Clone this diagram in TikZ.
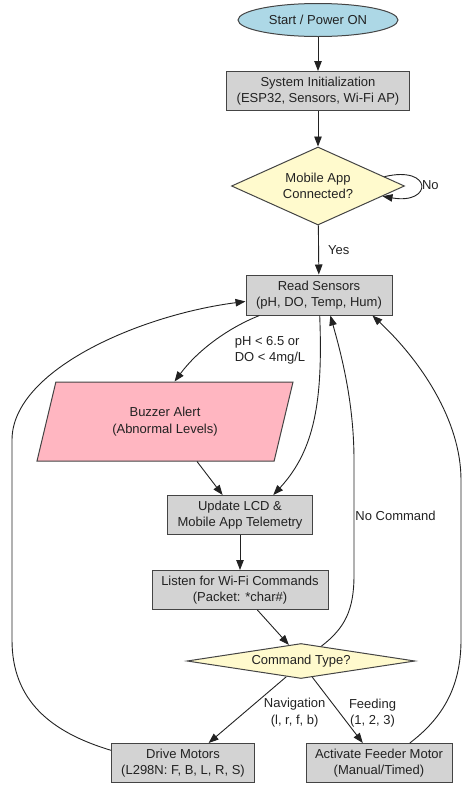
\documentclass[tikz,border=0pt]{standalone}
\usepackage{fontspec}
\setmainfont{Liberation Sans}
\usetikzlibrary{shapes.geometric, arrows.meta, calc}

\definecolor{boxgray}{HTML}{D3D3D3}
\definecolor{startblue}{HTML}{ADD8E6}
\definecolor{decyellow}{HTML}{FFFACD}
\definecolor{alertpink}{HTML}{FFB6C1}
\definecolor{edgeink}{HTML}{222222}
\definecolor{borderink}{HTML}{444444}

\begin{document}
\begin{tikzpicture}[x=1pt, y=1pt,
  every node/.style={font=\fontsize{13}{16.5}\selectfont, text=edgeink, align=center},
  procbox/.style={rectangle, draw=borderink, fill=boxgray, line width=1pt,
                  inner sep=0pt, minimum height=39pt},
  startnode/.style={ellipse, draw=borderink, fill=startblue, line width=1pt,
                    inner sep=0pt, minimum width=160pt, minimum height=33pt},
  decision/.style={diamond, draw=borderink, fill=decyellow, line width=1pt, inner sep=0pt},
  alertnode/.style={trapezium, trapezium left angle=56.6, trapezium right angle=123.4,
                    trapezium stretches body, draw=borderink, fill=alertpink,
                    line width=1pt, inner sep=0pt, minimum width=256pt, minimum height=79pt},
  flow/.style={draw=edgeink, line width=0.9pt, -{Triangle[length=10pt, width=7.5pt]}},
  lbl/.style={inner sep=0pt}
]
\useasboundingbox (0,0) rectangle (462,-785);

% nodes
\node[startnode] (start) at (318,-20) {Start / Power ON};
\node[procbox, minimum width=183pt] (init) at (318,-91)
  {System Initialization\\(ESP32, Sensors, Wi-Fi AP)};
\node[decision, aspect=2.2, minimum width=173pt, minimum height=78pt] (mobile) at (318,-186)
  {Mobile App\\Connected?};
\node[procbox, minimum width=146pt, minimum height=40pt] (read) at (319,-295)
  {Read Sensors\\(pH, DO, Temp, Hum)};
\node[alertnode] (buzzer) at (165,-421.5) {Buzzer Alert\\(Abnormal Levels)};
\node[procbox, minimum width=145pt] (update) at (240,-515)
  {Update LCD \&\\Mobile App Telemetry};
\node[procbox, minimum width=176pt] (listen) at (240,-590)
  {Listen for Wi-Fi Commands\\(Packet: *char\#)};
\node[decision, aspect=6.5, minimum width=228pt, minimum height=35pt] (cmd) at (301,-661)
  {Command Type?};
\node[procbox, minimum width=143pt] (drive) at (183,-763)
  {Drive Motors\\(L298N: F, B, L, R, S)};
\node[procbox, minimum width=146pt] (feeder) at (379,-763)
  {Activate Feeder Motor\\(Manual/Timed)};

% main line
\draw[flow] (start) -- (init);
\draw[flow] (init) -- (mobile);
\draw[flow] (mobile) -- node[lbl, anchor=west, xshift=9pt] {Yes} (read);
\draw[flow] (mobile.8) .. controls (433,-165) and (433,-205) ..
  node[lbl, anchor=west, pos=0.5, xshift=1pt] {No} (mobile.-9);

% sensor branch
\draw[flow] (read.199) .. controls (228,-328) and (198,-350) ..
  node[lbl, pos=0.45, anchor=west, xshift=16pt, yshift=-12pt, align=left]
  {pH < 6.5 or\\DO < 4mg/L} (buzzer.top side);
\draw[flow] ($(buzzer.south)+(32,0)$) -- (update.131);
\draw[flow] (read.272) .. controls (323,-400) and (315,-450) .. (update.31);
\draw[flow] (update) -- (listen);
\draw[flow] (listen.311) -- (cmd.127);

% command outcomes
\draw[flow] (cmd.36) .. controls (345,-628) and (354,-610) .. (354,-575)
  -- node[lbl, anchor=west, xshift=1pt, yshift=2pt] {No Command} (354,-460)
  .. controls (354,-400) and (340,-350) .. (read.299);
\draw[flow] (cmd.227) -- node[lbl, anchor=west, xshift=16pt, yshift=-3pt] {Navigation\\(l, r, f, b)} (drive.38);
\draw[flow] (cmd.305) -- node[lbl, anchor=west, xshift=11pt, yshift=-3pt] {Feeding\\(1, 2, 3)} (feeder.129);

% return loops to sensor reading
\draw[flow] (drive.170) .. controls (50,-732) and (12,-700) .. (12,-640)
  -- (12,-440) .. controls (12,-370) and (140,-315) .. (read.185);
\draw[flow] (feeder.33) .. controls (440,-720) and (461,-690) .. (461,-640)
  -- (461,-480) .. controls (461,-420) and (420,-360) .. (read.339);
\end{tikzpicture}
\end{document}
